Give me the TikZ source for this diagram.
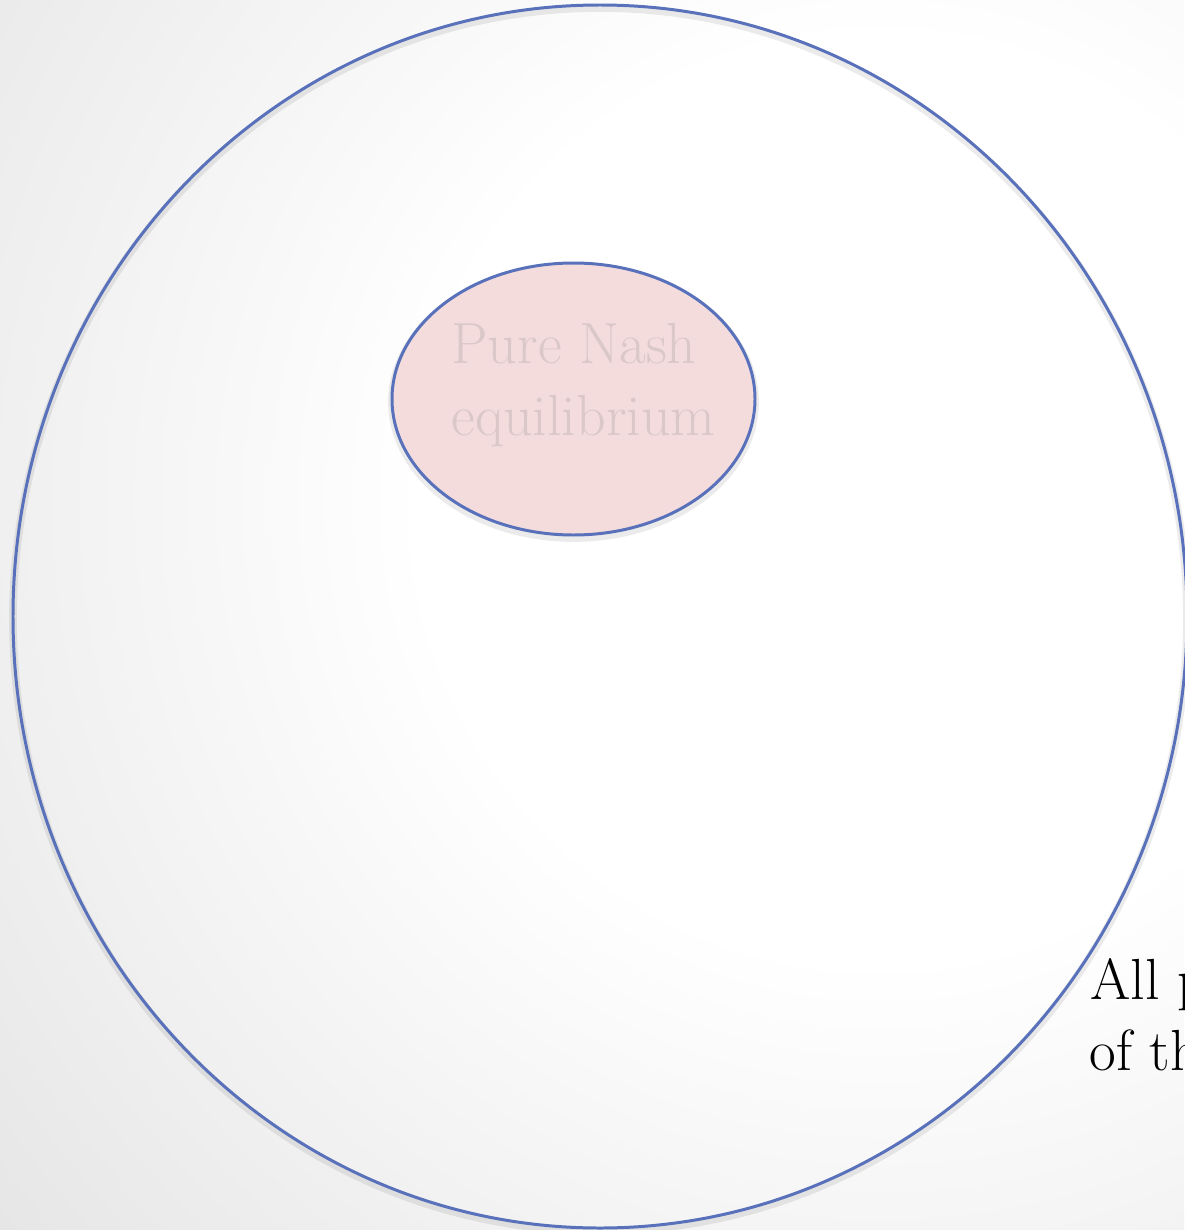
\documentclass[tikz,border=0pt]{standalone}
\usepackage{fontspec}
\usepackage{tikz}
\usetikzlibrary{positioning}
\definecolor{setblue}{HTML}{5871BA}
\definecolor{nashpink}{HTML}{F4DCDD}
\definecolor{nashtext}{HTML}{DAC7C8}
\definecolor{bggray}{HTML}{E4E4E4}
\pgfdeclareradialshading{slideshade}{\pgfpoint{0bp}{0bp}}{color(0bp)=(white); color(5bp)=(white); color(13bp)=(bggray); color(50bp)=(bggray)}

\begin{document}
\begin{tikzpicture}[x=0.01cm, y=-0.01cm,
	every node/.style={inner sep=0pt, font=\fontsize{16.5}{20.5}\selectfont},
	setline/.style={draw=setblue, line width=0.85pt},
	shadowline/.style={draw=black, opacity=0.08, line width=2.2pt}]
	% background
	\begin{scope}
		\clip (0,0) rectangle (1184,1230);
		\shade[shading=slideshade] (880,500) circle [radius=2300];
	\end{scope}
	\useasboundingbox (0,0) rectangle (1184,1230);
	% all profiles
	\draw[shadowline] (600,619.5) ellipse [x radius=587, y radius=611.5];
	\draw[setline] (600,616.5) ellipse [x radius=587, y radius=611.5];
	% pure Nash equilibria
	\draw[shadowline] (573.5,402) ellipse [x radius=181.5, y radius=136];
	\draw[setline, fill=nashpink] (573.5,399) ellipse [x radius=181.5, y radius=136];
	\node[nashtext, align=left] (nash) at (583.5,385) {Pure Nash\\equilibrium};
	\node[anchor=base west] (allp) at (1090,999) {All p};
	\node[anchor=base west] (ofth) at (1089,1070) {of th};
\end{tikzpicture}
\end{document}
